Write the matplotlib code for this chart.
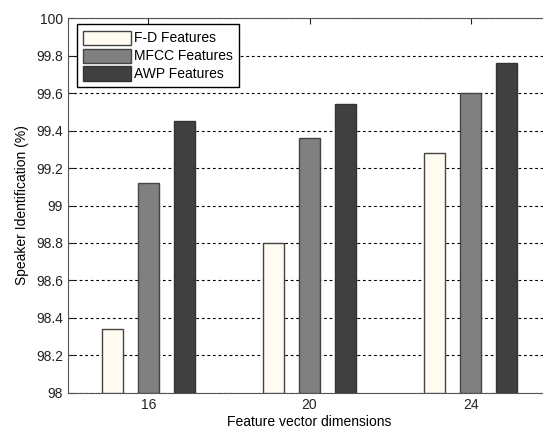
import matplotlib.pyplot as plt
import numpy as np

plt.rcParams['font.family'] = ['Liberation Sans', 'DejaVu Sans']

dims = ['16', '20', '24']
fd = [98.34, 98.80, 99.28]
mfcc = [99.12, 99.36, 99.60]
awp = [99.45, 99.54, 99.76]

fig = plt.figure(figsize=(5.43, 4.32), dpi=100)
ax = fig.add_axes([0.125, 0.0903, 0.89, 0.868])

x = np.arange(1, len(dims) + 1)
w = 0.13
off = 0.223
ax.bar(x - off, np.array(fd) - 98, w, bottom=98, color='#fffbf0', edgecolor='#444444', lw=1, label='F-D Features', zorder=3)
ax.bar(x, np.array(mfcc) - 98, w, bottom=98, color='#808080', edgecolor='#444444', lw=1, label='MFCC Features', zorder=3)
ax.bar(x + off, np.array(awp) - 98, w, bottom=98, color='#404040', edgecolor='#333333', lw=1, label='AWP Features', zorder=3)

ax.set_xlim(0.5, 3.5)
ax.set_ylim(98, 100)
ax.set_xticks(x)
ax.set_xticklabels(dims)
ax.set_yticks(np.arange(98, 100.01, 0.2))
ax.set_yticklabels(['98', '98.2', '98.4', '98.6', '98.8', '99', '99.2', '99.4', '99.6', '99.8', '100'])
ax.yaxis.grid(True, linestyle=(0, (2.5, 2.5)), color='black', lw=0.8, zorder=1)
ax.tick_params(direction='in', top=True, right=True, labelsize=10, colors='#222222', length=4)
for s in ax.spines.values():
    s.set_color('#555555')

ax.set_xlabel('Feature vector dimensions', fontsize=10, labelpad=2)
ax.set_ylabel('Speaker Identification (%)', fontsize=10, labelpad=5)

leg = ax.legend(loc='upper left', bbox_to_anchor=(0.019, 0.983), fontsize=10, fancybox=False,
                framealpha=1, edgecolor='black', handlelength=3.4, handleheight=1.2,
                handletextpad=0.25, labelspacing=0.22, borderpad=0.45, borderaxespad=0)
leg.get_frame().set_linewidth(1)

fig.savefig('out.png', dpi=100)
